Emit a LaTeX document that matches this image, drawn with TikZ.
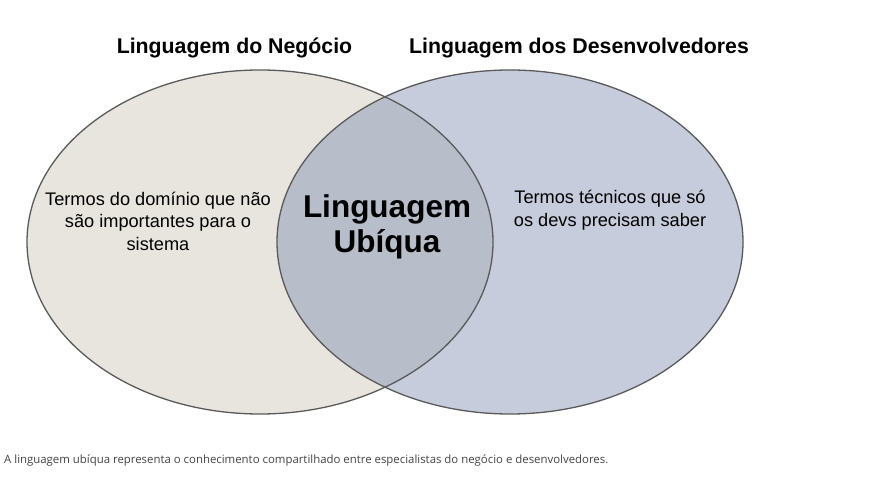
\documentclass[tikz,border=0pt]{standalone}
\usepackage{fontspec}
\setmainfont{Liberation Sans}
\newfontfamily\capfont{Open Sans}
\definecolor{leftfill}{HTML}{E7E5DD}
\definecolor{rightfill}{HTML}{C6CCDC}
\definecolor{midfill}{HTML}{B8BDCA}
\definecolor{edge}{HTML}{5A5A5A}
\definecolor{captxt}{HTML}{444444}
\begin{document}
\begin{tikzpicture}[x=1pt,y=-1pt,
  outline/.style={draw=edge,line width=1.3pt},
  title/.style={font=\fontsize{21.3}{25}\selectfont\bfseries,anchor=center},
  body/.style={font=\fontsize{18.2}{22.5}\selectfont,align=center,anchor=center},
  big/.style={font=\fontsize{31.5}{35.5}\selectfont\bfseries,align=center,anchor=center}]
\useasboundingbox (0,0) rectangle (894,478);
\fill[white] (0,0) rectangle (894,478);
\fill[leftfill] (260,242) ellipse [x radius=233, y radius=172];
\fill[rightfill] (510,242) ellipse [x radius=233, y radius=172];
\begin{scope}
\clip (260,242) ellipse [x radius=233, y radius=172];
\fill[midfill] (510,242) ellipse [x radius=233, y radius=172];
\end{scope}
\draw[outline] (260,242) ellipse [x radius=233, y radius=172];
\draw[outline] (510,242) ellipse [x radius=233, y radius=172];
\node[title] (t1) at (234.5,48) {Linguagem do Negócio};
\node[title] (t2) at (579,48) {Linguagem dos Desenvolvedores};
\node[body] (l) at (158,221) {Termos do domínio que não\\são importantes para o\\sistema};
\node[body] (r) at (610,210) {Termos técnicos que só\\os devs precisam saber};
\node[big] (c) at (387,227) {Linguagem\\Ubíqua};
\node[anchor=west,text=captxt,font=\capfont\fontsize{11.4}{13}\selectfont,inner sep=0pt] (cap) at (4,461) {A linguagem ubíqua representa o conhecimento compartilhado entre especialistas do negócio e desenvolvedores.};
\end{tikzpicture}
\end{document}
